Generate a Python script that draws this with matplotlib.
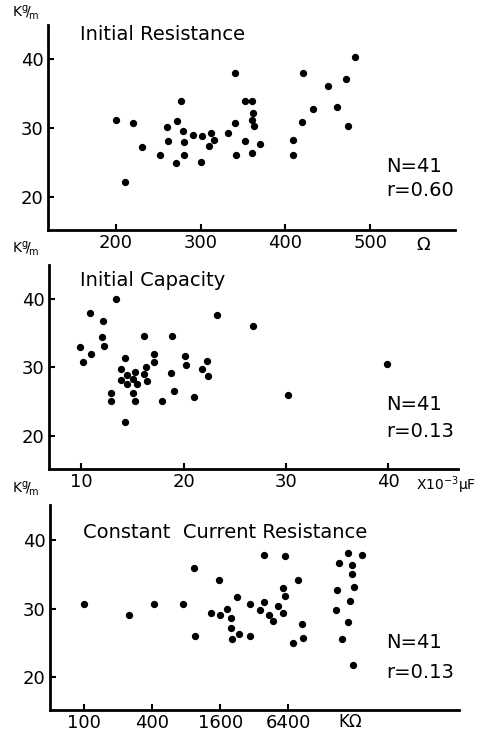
import matplotlib
matplotlib.use("Agg")
import matplotlib.pyplot as plt

# Initial Resistance (ohm) vs Kg/m
res_x = [200, 211, 220, 231, 252, 260, 261, 271, 272, 277, 279, 280, 280, 291, 301,
         302, 310, 312, 316, 332, 340, 340, 342, 352, 352, 360, 360, 362, 363, 361,
         370, 409, 409, 420, 421, 433, 450, 461, 472, 474, 482]
res_y = [31.2, 22.1, 30.7, 27.2, 26.0, 30.1, 28.1, 24.9, 31.0, 33.9, 29.6, 28.0, 26.0, 28.9, 25.1,
         28.8, 27.3, 29.2, 28.3, 29.3, 38.0, 30.7, 26.1, 33.9, 28.1, 33.9, 31.2, 32.2, 30.3, 26.4,
         27.7, 28.3, 26.1, 30.9, 37.9, 32.8, 36.0, 33.0, 37.1, 30.2, 40.2]

# Initial Capacity (x10^-3 uF) vs Kg/m
cap_x = [9.9, 10.2, 10.8, 10.9, 12.1, 12.0, 12.2, 13.4, 12.9, 12.9, 13.9, 13.9, 14.3, 14.5,
         14.5, 14.3, 15.0, 15.0, 15.2, 15.2, 15.4, 16.1, 16.1, 16.3, 16.4, 17.1, 17.1, 17.9,
         18.9, 18.8, 19.1, 20.1, 20.2, 21.0, 21.8, 22.3, 22.4, 23.3, 26.8, 30.2, 39.9]
cap_y = [33.0, 30.8, 37.9, 31.9, 36.8, 34.4, 33.2, 40.0, 26.3, 25.0, 29.8, 28.1, 31.4, 28.9,
         27.5, 22.0, 26.3, 28.3, 29.3, 25.0, 27.5, 34.6, 29.0, 30.1, 28.0, 32.0, 30.8, 25.1,
         34.6, 29.2, 26.6, 31.7, 30.4, 25.7, 29.8, 30.9, 28.7, 37.6, 36.0, 26.0, 30.5]

# Constant Current Resistance (kohm) vs Kg/m
ccr_x = [100, 250, 414, 754, 942, 961, 1320, 1550, 1590, 1820, 1990, 2000, 2030, 2260, 2340,
         2930, 2930, 3630, 3910, 3910, 4290, 4710, 5150, 5780, 5780, 6020, 6020, 7100, 7750,
         8500, 8580, 17100, 17500, 18100, 19100, 21800, 21800, 22500, 23500, 23700, 24000,
         24500, 29100]
ccr_y = [30.6, 29.0, 30.6, 30.7, 35.9, 26.0, 29.4, 34.2, 29.0, 30.0, 28.6, 27.1, 25.6, 31.7, 26.3,
         30.7, 26.0, 29.8, 31.0, 37.8, 29.0, 28.2, 30.4, 33.0, 29.4, 31.8, 37.7, 24.9, 34.2,
         27.8, 25.7, 29.8, 32.7, 36.6, 25.6, 38.1, 28.1, 31.1, 36.4, 35.0, 21.7, 33.1, 37.8]

W, H = 482, 733
fig = plt.figure(figsize=(W / 100, H / 100), dpi=100)
plt.rcParams['font.family'] = ['DejaVu Sans']


def px(x, y):
    return x / W, 1 - y / H


def make_axes(left, top, right, bottom):
    ax = fig.add_axes([left / W, 1 - bottom / H, (right - left) / W, (bottom - top) / H])
    for s in ['top', 'right']:
        ax.spines[s].set_visible(False)
    for s in ['left', 'bottom']:
        ax.spines[s].set_linewidth(2.0)
    ax.tick_params(direction='in', length=4, width=1.5, labelsize=13, pad=3)
    ax.set_yticks([20, 30, 40])
    return ax


# panel 1
ax1 = make_axes(48, 25, 455, 230)
ax1.scatter(res_x, res_y, s=18, color='black', zorder=3)
ax1.set_xlim(120, 600)
ax1.set_ylim(15.2, 44.9)
ax1.set_xticks([200, 300, 400, 500])

# panel 2
ax2 = make_axes(49, 265, 458, 469)
ax2.scatter(cap_x, cap_y, s=18, color='black', zorder=3)
ax2.set_xlim(6.84, 46.8)
ax2.set_ylim(15.1, 45)
ax2.set_xticks([10, 20, 30, 40])

# panel 3
ax3 = make_axes(50, 505, 459, 710)
ax3.scatter(ccr_x, ccr_y, s=18, color='black', zorder=3)
ax3.set_xscale('log')
ax3.set_xlim(49.6, 209000)
ax3.set_ylim(15.2, 45.1)
ax3.set_xticks([100, 400, 1600, 6400])
ax3.set_xticklabels(['100', '400', '1600', '6400'])
ax3.minorticks_off()

# titles
fig.text(*px(80, 34), "Initial Resistance", fontsize=14, va='center', ha='left')
fig.text(*px(80, 280), "Initial Capacity", fontsize=14, va='center', ha='left')
fig.text(*px(83, 532), "Constant  Current Resistance", fontsize=14, va='center', ha='left')

# y units
for yy in [13, 249, 489]:
    fig.text(*px(12, yy), r"K$\mathregular{^g\!/\!_m}$", fontsize=10, va='center', ha='left')

# x units
fig.text(*px(423, 245), "Ω", fontsize=13, va='center', ha='center')
fig.text(*px(416, 485), "X10$^{-3}$μF", fontsize=10, va='center', ha='left')
fig.text(*px(350, 722), "KΩ", fontsize=12, va='center', ha='center')

# stats
for yn, yr, r in [(166, 190, "0.60"), (405, 432, "0.13"), (643, 672, "0.13")]:
    fig.text(*px(386, yn), "N=41", fontsize=14, va='center', ha='left')
    fig.text(*px(386, yr), "r=" + r, fontsize=14, va='center', ha='left')

fig.savefig("out.png", dpi=100)
